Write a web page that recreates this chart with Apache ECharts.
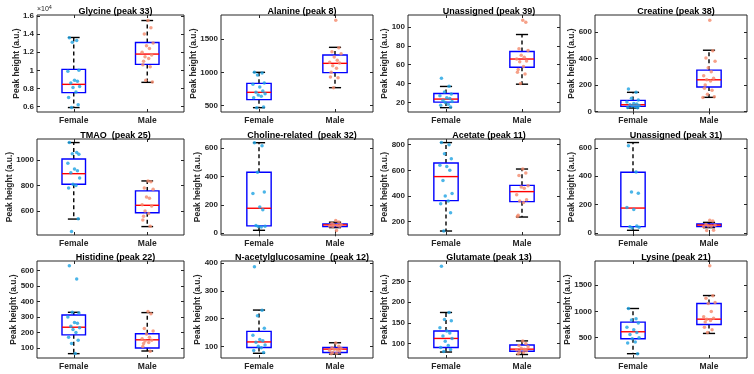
<!DOCTYPE html>
<html>
<head>
<meta charset="utf-8">
<script src="https://cdn.jsdelivr.net/npm/echarts@6/dist/echarts.min.js"></script>
<style>
  html, body { margin: 0; padding: 0; background: #fff; }
  #chart { width: 754px; height: 374px; }
</style>
</head>
<body>
<div id="chart"></div>
<script>
// Female vs male peak heights, 12 metabolites, MATLAB-style boxplots with jittered points.

const TITLES = [
  "Glycine (peak 33)", "Alanine (peak 8)", "Unassigned (peak 39)", "Creatine (peak 38)",
  "TMAO  (peak 25)", "Choline-related  (peak 32)", "Acetate (peak 11)", "Unassigned (peak 31)",
  "Histidine (peak 22)", "N-acetylglucosamine  (peak 12)", "Glutamate (peak 13)", "Lysine (peak 21)",
];
const GROUPS = ["Female", "Male"];

// y-axis limits and tick labels (Glycine in units of 1e4)
const Y_MIN = [0.54, 405, 9.8, -5, 412, -12, 96, -14, 36, 58, 64.5, 114];
const Y_MAX = [1.61, 1860, 112.7, 730, 1165, 663, 844, 663, 660, 408, 300, 1962];
const Y_TICKS = [
  [0.6, 0.8, 1, 1.2, 1.4, 1.6], [500, 1000, 1500], [20, 40, 60, 80, 100], [0, 200, 400, 600],
  [600, 800, 1000], [0, 200, 400, 600], [200, 400, 600, 800], [0, 200, 400, 600],
  [100, 200, 300, 400, 500, 600], [100, 200, 300, 400], [100, 150, 200, 250], [500, 1000, 1500],
];

// box stats: [lower whisker, q1, median, q3, upper whisker]
const FEMALE_BOX = [
  [0.589, 0.754, 0.845, 1.01, 1.362], [470, 590, 700, 835, 1000], [14.4, 20.3, 23.5, 29.5, 36.9],
  [25, 38, 50, 83, 144], [537, 810, 893, 1008, 1137], [21, 52, 176, 429, 637],
  [127, 364, 551, 657, 816], [19, 45, 176, 428, 638], [64, 185, 234, 313, 330],
  [75, 96, 116, 154, 231], [79, 90, 112, 130, 175], [196, 481, 614, 797, 1057],
];
const MALE_BOX = [
  [0.867, 1.065, 1.179, 1.307, 1.549], [770, 995, 1135, 1260, 1375], [39.3, 57.2, 66, 74, 92],
  [106, 184, 239, 312, 463], [478, 587, 645, 758, 836], [40, 47, 59, 66, 78],
  [236, 356, 434, 483, 610], [38, 45, 56, 64, 75], [81, 100, 153, 192, 328],
  [72, 78, 90, 96, 113], [73, 81, 86, 96, 106], [582, 753, 854, 1152, 1304],
];

// individual samples
const FEMALE_PTS = [
  [1.36, 1.33, 1.31, 1.0, 0.99, 0.89, 0.88, 0.86, 0.82, 0.81, 0.76, 0.7, 0.62, 0.59],
  [1000, 990, 960, 840, 820, 780, 720, 700, 680, 660, 640, 620, 480, 470],
  [45.5, 37, 31, 29, 27, 25, 24, 22, 21, 20, 18, 17, 15],
  [170, 145, 100, 85, 70, 60, 55, 50, 45, 40, 35, 30, 28],
  [1137, 1060, 1050, 1045, 975, 930, 915, 900, 860, 810, 800, 780, 540, 440],
  [637, 615, 430, 290, 280, 185, 165, 55, 50, 48, 45],
  [816, 800, 730, 690, 640, 630, 600, 520, 420, 400, 360, 340, 270, 127],
  [615, 430, 290, 280, 180, 165, 50, 45, 40, 35],
  [630, 545, 330, 325, 300, 265, 260, 240, 230, 220, 200, 170, 150, 130, 65],
  [387, 230, 210, 165, 140, 125, 120, 115, 105, 100, 95, 85, 78],
  [287, 175, 158, 155, 138, 130, 125, 118, 112, 105, 95, 90, 85, 80],
  [1057, 860, 840, 780, 700, 650, 600, 560, 500, 480, 420, 400, 196],
];
const MALE_PTS = [
  [1.55, 1.47, 1.4, 1.3, 1.27, 1.24, 1.2, 1.17, 1.15, 1.13, 1.1, 1.06, 1.04, 0.89, 0.87],
  [1780, 1370, 1310, 1280, 1230, 1180, 1150, 1140, 1100, 1060, 1000, 930, 920, 770],
  [107, 105, 77, 75, 70, 68, 66, 64, 63, 58, 55, 52, 50, 40],
  [690, 460, 405, 380, 330, 300, 270, 250, 240, 230, 200, 175, 160, 130, 110, 105],
  [836, 830, 780, 770, 710, 700, 650, 640, 600, 580, 560, 530, 480],
  [90, 80, 70, 62, 58, 55, 52, 50, 48, 20],
  [610, 580, 560, 480, 470, 460, 410, 370, 360, 350, 250, 240],
  [90, 85, 60, 55, 50, 48, 45, 20, 18],
  [335, 320, 225, 210, 190, 170, 160, 150, 145, 135, 130, 110, 80],
  [112, 100, 95, 92, 90, 88, 85, 82, 78, 75, 73],
  [106, 100, 95, 92, 88, 86, 84, 82, 80, 78, 75],
  [1870, 1300, 1250, 1170, 1150, 1000, 900, 870, 850, 830, 800, 700, 650, 600],
];
// horizontal spread of the points around each group centre
const JITTER = [-0.06, 0.04, -0.02, 0.07, -0.08, 0.01, 0.05, -0.04, 0.08, -0.01, 0.03, -0.07, 0.06, -0.03, 0.02, -0.05];

// layout of the 4x3 panel grid (px)
const COLS = [[37, 184], [221, 373], [408, 560], [595, 747]];
const ROWS = [[15, 112], [139, 235], [261, 358]];
const BOX_HALF = 0.16;
const CAP_HALF = 0.08;
const INK = "#262626";
const FEMALE_COLOR = "#1ea2e2";
const MALE_COLOR = "#f48a6c";
const FONT = "Liberation Sans";

function labelWidth(v) {
  // Rough pixel width of a bold 8px tick label.
  const s = String(v);
  let w = 0;
  for (const c of s) w += c === "." ? 2.2 : 4.45;
  return w;
}

function renderBox(params, api) {
  // Blue box, red median, black dashed whiskers with caps.
  const x = api.value(0);
  const [lo, q1, med, q3, hi] = [1, 2, 3, 4, 5].map((d) => api.value(d));
  const cx = api.coord([x, med])[0];
  const left = api.coord([x - BOX_HALF, med])[0];
  const right = api.coord([x + BOX_HALF, med])[0];
  const capL = api.coord([x - CAP_HALF, med])[0];
  const capR = api.coord([x + CAP_HALF, med])[0];
  const y = (v) => api.coord([x, v])[1];
  const dash = { stroke: "#000", lineWidth: 1.4, lineDash: [4, 3] };
  const solid = (c) => ({ stroke: c, lineWidth: 1.4 });
  return {
    type: "group",
    children: [
      { type: "line", shape: { x1: cx, y1: y(q3), x2: cx, y2: y(hi) }, style: dash },
      { type: "line", shape: { x1: cx, y1: y(q1), x2: cx, y2: y(lo) }, style: dash },
      { type: "line", shape: { x1: capL, y1: y(hi), x2: capR, y2: y(hi) }, style: solid("#000") },
      { type: "line", shape: { x1: capL, y1: y(lo), x2: capR, y2: y(lo) }, style: solid("#000") },
      { type: "rect", shape: { x: left, y: y(q3), width: right - left, height: y(q1) - y(q3) },
        style: { fill: "none", stroke: "#0000ff", lineWidth: 1.4 } },
      { type: "line", shape: { x1: left, y1: y(med), x2: right, y2: y(med) }, style: solid("#ff0000") },
    ],
  };
}

const grid = [], xAxis = [], yAxis = [], series = [], title = [];
const labelStyle = { color: INK, fontSize: 8, fontWeight: "bold", fontFamily: FONT };

TITLES.forEach((name, i) => {
  const col = COLS[i % 4], row = ROWS[Math.floor(i / 4)];
  grid.push({
    left: col[0], top: row[0], width: col[1] - col[0], height: row[1] - row[0],
    show: true, borderColor: INK, borderWidth: 1, backgroundColor: "#fff",
  });
  title.push({
    text: name, left: (col[0] + col[1]) / 2, top: row[0] - 13, textAlign: "center",
    textStyle: { color: "#000", fontSize: 9, fontWeight: "bold", fontFamily: FONT },
  });
  const xBase = {
    type: "value", gridIndex: i, min: 0.5, max: 2.5,
    axisLine: { show: false }, splitLine: { show: false },
    axisTick: { show: true, inside: true, length: 3, customValues: [1, 2], lineStyle: { color: INK } },
  };
  xAxis.push(Object.assign({}, xBase, {
    position: "bottom",
    axisLabel: Object.assign({ customValues: [1, 2], margin: 4, formatter: (v) => GROUPS[Math.round(v) - 1] }, labelStyle, { fontSize: 8.5 }),
  }));
  xAxis.push(Object.assign({}, xBase, { position: "top", axisLabel: { show: false } }));

  const ticks = Y_TICKS[i];
  const gap = Math.max(...ticks.map(labelWidth)) + 5;
  const yBase = {
    type: "value", gridIndex: i, min: Y_MIN[i], max: Y_MAX[i],
    axisLine: { show: false }, splitLine: { show: false },
    axisTick: { show: true, inside: true, length: 3, customValues: ticks, lineStyle: { color: INK } },
  };
  yAxis.push(Object.assign({}, yBase, {
    position: "left",
    name: "Peak height (a.u.)", nameLocation: "middle", nameGap: gap, nameMoveOverlap: false,
    nameTextStyle: { color: INK, fontSize: 8.5, fontWeight: "bold", fontFamily: FONT },
    axisLabel: Object.assign({ customValues: ticks, margin: 3, formatter: (v) => String(v) }, labelStyle),
  }));
  yAxis.push(Object.assign({}, yBase, { position: "right", axisLabel: { show: false } }));

  const xi = i * 2, yi = i * 2;
  series.push({
    type: "custom", xAxisIndex: xi, yAxisIndex: yi, renderItem: renderBox,
    encode: { x: 0, y: [1, 2, 3, 4, 5] }, silent: true, z: 2,
    data: [[1].concat(FEMALE_BOX[i]), [2].concat(MALE_BOX[i])],
  });
  series.push({
    type: "scatter", xAxisIndex: xi, yAxisIndex: yi, symbolSize: 3.5, z: 3, silent: true,
    itemStyle: { color: FEMALE_COLOR },
    data: FEMALE_PTS[i].map((v, k) => [1 + JITTER[k % JITTER.length], v]),
  });
  series.push({
    type: "scatter", xAxisIndex: xi, yAxisIndex: yi, symbolSize: 3.5, z: 3, silent: true,
    itemStyle: { color: MALE_COLOR },
    data: MALE_PTS[i].map((v, k) => [2 + JITTER[(k + 5) % JITTER.length], v]),
  });
});

const chart = echarts.init(document.getElementById("chart"), null, { renderer: "canvas" });
chart.setOption({
  animation: false,
  backgroundColor: "#fff",
  title, grid, xAxis, yAxis, series,
  graphic: [{
    type: "text", left: 37, top: 4,
    style: {
      text: "×10{sup|4}", fill: INK, fontSize: 7, fontFamily: FONT,
      rich: { sup: { fontSize: 5.5, verticalAlign: "top", padding: [0, 0, 4, 0], fill: INK } },
    },
  }],
});
</script>
</body>
</html>
